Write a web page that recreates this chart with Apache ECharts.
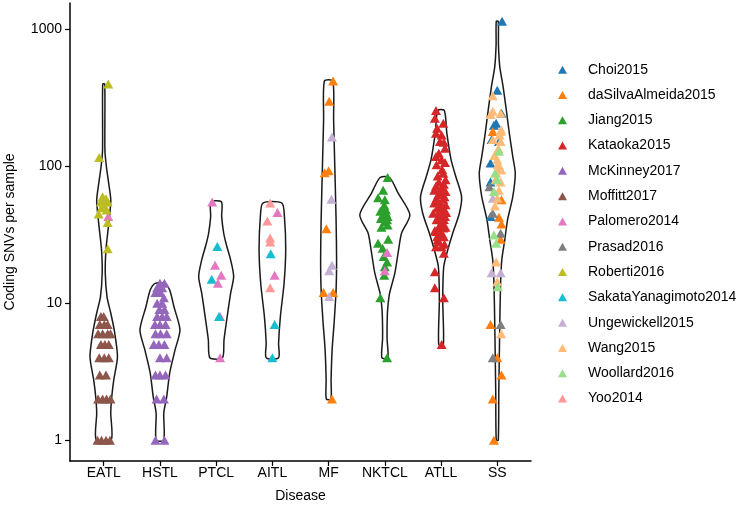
<!DOCTYPE html>
<html>
<head>
<meta charset="utf-8">
<script src="https://cdn.jsdelivr.net/npm/echarts@6/dist/echarts.min.js"></script>
<style>
html,body{margin:0;padding:0;background:#fff;}
#chart{width:751px;height:510px;}
</style>
</head>
<body>
<div id="chart"></div>
<script>
// ---------------- DATA ----------------
const diseases = ['EATL','HSTL','PTCL','AITL','MF','NKTCL','ATLL','SS'];
const yTickValues = [1, 10, 100, 1000];
const studies = ['Choi2015','daSilvaAlmeida2015','Jiang2015','Kataoka2015','McKinney2017','Moffitt2017','Palomero2014','Prasad2016','Roberti2016','SakataYanagimoto2014','Ungewickell2015','Wang2015','Woollard2016','Yoo2014'];
const studyColors = ['#1F77B4','#FF7F0E','#2CA02C','#D62728','#9467BD','#8C564B','#E377C2','#7F7F7F','#BCBD22','#17BECF','#C5B0D5','#FFBB78','#98DF8A','#FF9896'];

// points: [disease, horizontal jitter (category units), coding SNVs]
const choi2015 = [['SS',0.085,1150],['SS',0,360],['SS',0.075,245],['SS',-0.02,207],['SS',-0.06,200],['SS',-0.10,157],['SS',0.03,152],['SS',-0.12,106],['SS',-0.12,77],['SS',-0.12,43]];
const daSilvaAlmeida2015 = [['MF',0.08,420],['MF',0.01,300],['MF',-0.07,90],['MF',0,93],['MF',-0.04,35],['MF',-0.09,12],['MF',0.08,12],['MF',0.06,2],
  ['SS',-0.08,180],['SS',0.075,57],['SS',0.03,42.6],['SS',0.075,38],['SS',0.06,29.4],['SS',-0.12,7],['SS',0,4],['SS',0.075,3],['SS',-0.08,2],['SS',-0.06,1]];
const jiang2015 = [['NKTCL',0.05,83],['NKTCL',-0.03,67],['NKTCL',-0.12,59],['NKTCL',0,57],['NKTCL',-0.01,52],['NKTCL',-0.02,50],['NKTCL',-0.08,47],['NKTCL',0.02,48],['NKTCL',0.02,45.5],['NKTCL',-0.04,44],['NKTCL',0.05,43],['NKTCL',-0.07,41.7],['NKTCL',0.04,40.7],['NKTCL',0,39.5],['NKTCL',0.05,37.4],['NKTCL',-0.06,36],['NKTCL',-0.12,27.5],['NKTCL',0.06,29.4],['NKTCL',-0.04,25.3],['NKTCL',-0.02,22],['NKTCL',0.04,20],['NKTCL',0,18.5],['NKTCL',-0.01,16],['NKTCL',-0.08,11],['NKTCL',0.04,4]];
const kataoka2015 = [['ATLL',-0.09,256],['ATLL',-0.11,225],['ATLL',0.04,207],['ATLL',-0.07,190],['ATLL',-0.09,175],['ATLL',0.01,170],['ATLL',-0.02,152],['ATLL',0.05,150],['ATLL',0.07,136],['ATLL',-0.04,125],['ATLL',-0.09,118],['ATLL',0.01,112],['ATLL',0.07,107],['ATLL',-0.08,103],['ATLL',0.02,95],['ATLL',0.04,89],['ATLL',-0.06,85],['ATLL',0.08,80],['ATLL',-0.04,77],['ATLL',0.05,74],['ATLL',-0.09,72],['ATLL',0.01,70.5],['ATLL',-0.12,67],['ATLL',0,66],['ATLL',0.08,65.5],['ATLL',-0.04,63],['ATLL',-0.05,62],['ATLL',0.06,60],['ATLL',-0.08,58.6],['ATLL',0.04,57.5],['ATLL',-0.10,56],['ATLL',-0.12,54],['ATLL',-0.01,53],['ATLL',0.08,52.4],['ATLL',0.03,50],['ATLL',-0.07,49.6],['ATLL',0.02,48],['ATLL',-0.03,47],['ATLL',0.09,46],['ATLL',-0.14,45.5],['ATLL',-0.02,44.3],['ATLL',0.07,43],['ATLL',-0.06,42],['ATLL',0.05,41],['ATLL',-0.08,40.7],['ATLL',0.01,38.9],['ATLL',-0.02,37],['ATLL',0.08,36],['ATLL',-0.05,35.5],['ATLL',0.04,35.5],['ATLL',-0.11,34],['ATLL',-0.09,33.4],['ATLL',0.01,32.5],['ATLL',0.03,31],['ATLL',-0.07,30.7],['ATLL',0.05,30.7],['ATLL',-0.06,29],['ATLL',-0.04,28.2],['ATLL',0.06,27],['ATLL',-0.09,25.9],['ATLL',0.01,25.9],['ATLL',0.05,23.2],['ATLL',-0.11,17],['ATLL',-0.11,13],['ATLL',0.05,11],['ATLL',0.01,5]];
const mcKinney2017 = [['HSTL',0,14],['HSTL',0.08,14],['HSTL',-0.05,13],['HSTL',0.04,13],['HSTL',-0.08,12],['HSTL',0.01,12],['HSTL',0.07,11],['HSTL',-0.05,10],['HSTL',0.04,10],['HSTL',-0.01,9],['HSTL',0.08,9],['HSTL',-0.05,8],['HSTL',0.04,8],['HSTL',0.12,8],['HSTL',-0.09,7],['HSTL',0,7],['HSTL',0.10,7],['HSTL',-0.08,6],['HSTL',0.01,6],['HSTL',0.12,6],['HSTL',-0.11,5],['HSTL',-0.02,5],['HSTL',0.08,5],['HSTL',0,4],['HSTL',0.12,4],['HSTL',-0.08,3],['HSTL',0,3],['HSTL',0.10,3],['HSTL',-0.06,2],['HSTL',0.07,2],['HSTL',-0.08,1],['HSTL',0.08,1]];
const moffitt2017 = [['EATL',-0.05,8],['EATL',0,8],['EATL',-0.07,7],['EATL',0.01,7],['EATL',0.07,7],['EATL',-0.10,6],['EATL',-0.02,6],['EATL',0.07,6],['EATL',0.12,6],['EATL',-0.05,5],['EATL',0.02,5],['EATL',0.09,5],['EATL',-0.08,4],['EATL',0.01,4],['EATL',0.09,4],['EATL',-0.07,3],['EATL',0.04,3],['EATL',-0.10,2],['EATL',-0.02,2],['EATL',0.05,2],['EATL',0.12,2],['EATL',-0.11,1],['EATL',-0.04,1],['EATL',0.04,1],['EATL',0.11,1]];
const palomero2014 = [['EATL',0.08,43],['PTCL',-0.07,55],['PTCL',-0.02,19],['PTCL',0.09,16],['PTCL',0.03,14],['PTCL',0.07,8],['PTCL',0.07,4],['AITL',0.09,46],['AITL',0.04,16],['NKTCL',0.04,23.5],['NKTCL',0,17.3]];
const prasad2016 = [['SS',-0.14,71],['SS',-0.08,45.5],['SS',0.06,32.5],['SS',0.06,7],['SS',-0.08,4]];
const roberti2016 = [['EATL',0.08,400],['EATL',-0.08,116],['EATL',-0.02,60],['EATL',0.04,58],['EATL',-0.05,55],['EATL',0.07,55],['EATL',0,52],['EATL',-0.04,50],['EATL',0.05,48],['EATL',-0.09,45],['EATL',0.07,39],['EATL',0.07,25]];
const sakataYanagimoto2014 = [['PTCL',0.02,26],['PTCL',-0.08,15],['PTCL',0.05,8],['AITL',-0.03,23],['AITL',0.04,7],['AITL',0,4]];
const ungewickell2015 = [['MF',0.06,164],['MF',0.05,57.6],['MF',0.06,19],['MF',0.01,17.3],['MF',0.01,11.2],['SS',-0.08,58.6],['SS',-0.10,16.7],['SS',0.06,16.7]];
const wang2015 = [['SS',-0.08,328],['SS',-0.08,253],['SS',0.06,245],['SS',-0.12,240],['SS',0.07,185],['SS',0.06,180],['SS',0.04,170],['SS',-0.08,157],['SS',0.06,152],['SS',0.02,135],['SS',-0.05,120],['SS',0,112],['SS',0.01,103],['SS',0.04,100],['SS',0.07,94],['SS',-0.02,90],['SS',-0.03,80],['SS',0.06,77],['SS',0.03,67],['SS',0,58.6],['SS',-0.04,51.5],['SS',-0.02,20],['SS',0,14.4],['SS',0.07,6]];
const woollard2016 = [['SS',0.03,129],['SS',-0.04,89],['SS',0,80],['SS',-0.06,65.5],['SS',-0.06,31.6],['SS',-0.02,27.5],['SS',0.01,13.2]];
const yoo2014 = [['AITL',-0.04,54],['AITL',-0.09,40],['AITL',-0.04,30],['AITL',-0.04,28],['AITL',-0.04,13]];
const studyPoints = [choi2015,daSilvaAlmeida2015,jiang2015,kataoka2015,mcKinney2017,moffitt2017,palomero2014,prasad2016,roberti2016,sakataYanagimoto2014,ungewickell2015,wang2015,woollard2016,yoo2014];

// violin outlines: [coding SNVs, density half-width (category units)], bottom to top
const violinEATL = [[1,0.133],[1.58,0.125],[2.06,0.142],[2.75,0.178],[4.05,0.244],[6.07,0.196],[8.5,0.125],[11.1,0.059],[16.7,0.027],[24.5,0.039],[32.7,0.071],[45,0.107],[57,0.125],[75,0.089],[99,0.048],[132,0.021],[400,0.018]];
const violinHSTL = [[1,0.068],[1.58,0.068],[2.06,0.119],[3.09,0.173],[4.55,0.267],[6.38,0.356],[9.44,0.249],[12.5,0.173],[14,0.084]];
const violinPTCL = [[4,0.112],[5.39,0.139],[7.98,0.196],[11.9,0.258],[15.7,0.311],[20.7,0.258],[27.6,0.173],[32.5,0.134],[43,0.098],[55,0.094]];
const violinAITL = [[4,0.110],[5.1,0.110],[8,0.142],[14,0.208],[24.5,0.237],[43,0.214],[54,0.169]];
const violinMF = [[2,0.041],[2.75,0.044],[4.55,0.062],[7.2,0.098],[12.5,0.133],[20.7,0.142],[40.7,0.133],[100,0.110],[219,0.089],[420,0.075]];
const violinNKTCL = [[4,0.053],[5.5,0.040],[7.1,0.041],[9,0.05],[11.8,0.084],[16.6,0.178],[24.5,0.244],[32.5,0.297],[44.3,0.445],[63.8,0.237],[83,0.084]];
const violinATLL = [[5,0.041],[10.6,0.030],[18.5,0.048],[24.5,0.119],[32.5,0.208],[45.5,0.326],[60.2,0.365],[84.4,0.262],[112,0.178],[175,0.103],[256,0.059]];
const violinSS = [[1,0.018],[2.21,0.027],[6.74,0.044],[14,0.059],[20.7,0.080],[29,0.133],[40.7,0.183],[60.2,0.276],[89.3,0.320],[118,0.276],[175,0.214],[260,0.160],[384,0.103],[538,0.044],[776,0.021],[1150,0.018]];
const violins = [violinEATL,violinHSTL,violinPTCL,violinAITL,violinMF,violinNKTCL,violinATLL,violinSS];

// ---------------- CHART ----------------
const FONT = '"Liberation Sans", Arial, Helvetica, sans-serif';
const chart = echarts.init(document.getElementById('chart'), null, {renderer: 'canvas'});

const violinSeries = {
  type: 'custom',
  name: 'violin',
  silent: true,
  z: 1,
  data: diseases.map((d, i) => [i, 1]),
  encode: {x: 0, y: 1},
  renderItem: function (params, api) {
    const i = params.dataIndex;
    const prof = violins[i];
    const right = prof.map(p => api.coord([i + p[1], p[0]]));
    const left = prof.slice().reverse().map(p => api.coord([i - p[1], p[0]]));
    return {
      type: 'polygon',
      shape: {points: right.concat(left), smooth: 0.25},
      style: {fill: 'none', stroke: '#1a1a1a', lineWidth: 1.5}
    };
  }
};

const pointSeries = studies.map((s, k) => ({
  type: 'scatter',
  name: s,
  z: 3,
  symbol: 'triangle',
  symbolSize: [10, 9],
  itemStyle: {color: studyColors[k], opacity: 1},
  emphasis: {disabled: true},
  data: studyPoints[k].map(p => [diseases.indexOf(p[0]) + p[1], p[2]])
}));

chart.setOption({
  animation: false,
  backgroundColor: '#ffffff',
  color: studyColors,
  grid: {left: 70, right: 220, top: 3, bottom: 49, containLabel: false, outerBoundsMode: 'none'},
  legend: {
    orient: 'vertical',
    left: 558,
    top: 57,
    padding: 0,
    itemGap: 0,
    itemWidth: 9,
    itemHeight: 8,
    icon: 'triangle',
    data: studies,
    textStyle: {fontFamily: FONT, fontSize: 14, color: '#000', lineHeight: 25.3, padding: [0, 0, 0, 16]}
  },
  xAxis: {
    type: 'value',
    min: -0.6,
    max: 7.6,
    name: 'Disease',
    nameLocation: 'middle',
    nameGap: 28,
    nameTextStyle: {fontFamily: FONT, fontSize: 14, color: '#000'},
    splitLine: {show: false},
    axisLine: {show: true, onZero: false, lineStyle: {color: '#000', width: 1.5}},
    axisTick: {show: true, length: 5, lineStyle: {color: '#000', width: 1.2}, customValues: diseases.map((d, i) => i)},
    axisLabel: {
      fontFamily: FONT, fontSize: 14, color: '#000', margin: 5,
      customValues: diseases.map((d, i) => i),
      formatter: v => diseases[Math.round(v)] || ''
    }
  },
  yAxis: {
    type: 'log',
    logBase: 10,
    min: Math.pow(10, -0.152),
    max: Math.pow(10, 3.194),
    name: 'Coding SNVs per sample',
    nameLocation: 'middle',
    nameGap: 53,
    nameRotate: 90,
    nameTextStyle: {fontFamily: FONT, fontSize: 14, color: '#000'},
    splitLine: {show: false},
    minorTick: {show: false},
    axisLine: {show: true, onZero: false, lineStyle: {color: '#000', width: 1.5}},
    axisTick: {show: true, length: 5, lineStyle: {color: '#000', width: 1.2}, customValues: yTickValues},
    axisLabel: {
      fontFamily: FONT, fontSize: 14, color: '#000', margin: 8,
      customValues: yTickValues,
      formatter: v => String(Math.round(v))
    }
  },
  series: [violinSeries].concat(pointSeries)
});
</script>
</body>
</html>
